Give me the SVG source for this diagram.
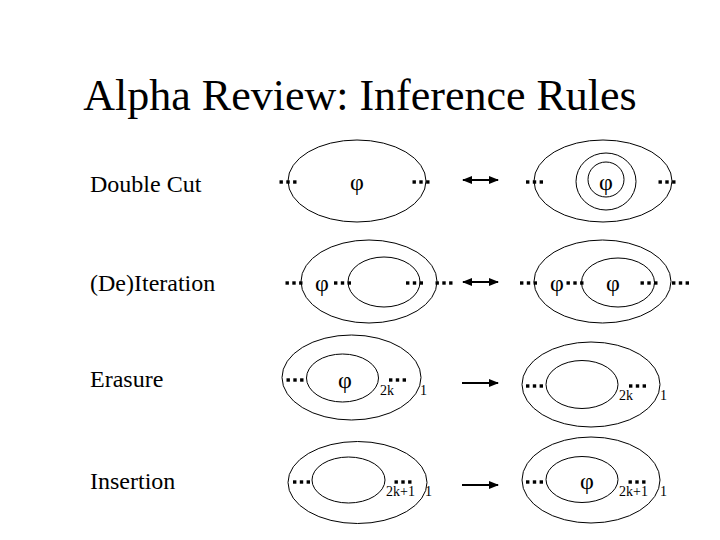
<svg xmlns="http://www.w3.org/2000/svg" width="720" height="540" viewBox="0 0 720 540">
<style>
.c{fill:none;stroke:#000;stroke-width:1}
.a{stroke:#000;stroke-width:2;fill:none}
.d{fill:#000}
</style>
<defs>
<g id="dots">
<rect class="d" x="-8.5" y="-1.7" width="3.4" height="3.4"/>
<rect class="d" x="-1.7" y="-1.7" width="3.4" height="3.4"/>
<rect class="d" x="5.1" y="-1.7" width="3.4" height="3.4"/>
</g>
<marker id="ah" viewBox="0 0 10 10" refX="9" refY="5" markerWidth="5" markerHeight="5" orient="auto-start-reverse" markerUnits="strokeWidth">
<path d="M0,1 L10,5 L0,9 z" fill="#000"/>
</marker>
</defs>
<rect width="720" height="540" fill="#fff"/>
<g font-family="Liberation Serif" fill="#000">
<text x="360" y="110" text-anchor="middle" font-size="44">Alpha Review: Inference Rules</text>
<g id="labels" font-size="24">
<text x="90" y="192">Double Cut</text>
<text x="90" y="291">(De)Iteration</text>
<text x="90" y="387">Erasure</text>
<text x="90" y="489">Insertion</text>
</g>
<g id="row-doublecut-left">
<ellipse class="c" cx="357" cy="181" rx="69" ry="41"/>
<use href="#dots" x="288" y="182"/>
<use href="#dots" x="421" y="182"/>
<text x="357" y="190" font-size="24" text-anchor="middle">φ</text>
</g>
<g id="row-doublecut-right">
<ellipse class="c" cx="603" cy="181" rx="69" ry="41"/>
<ellipse class="c" cx="606" cy="181.5" rx="30" ry="28.5"/>
<ellipse class="c" cx="606" cy="179.5" rx="18" ry="17.5"/>
<use href="#dots" x="534.5" y="182"/>
<use href="#dots" x="667" y="182"/>
<text x="606" y="190" font-size="24" text-anchor="middle">φ</text>
</g>
<g id="row-iteration-left">
<ellipse class="c" cx="369" cy="281.5" rx="68" ry="41.5"/>
<ellipse class="c" cx="384" cy="282" rx="36" ry="25"/>
<use href="#dots" x="294" y="283"/>
<text x="322" y="291" font-size="24" text-anchor="middle">φ</text>
<use href="#dots" x="342.5" y="283"/>
<use href="#dots" x="414.5" y="283"/>
<use href="#dots" x="444" y="283"/>
</g>
<g id="row-iteration-right">
<ellipse class="c" cx="602.5" cy="281.5" rx="68.5" ry="41.5"/>
<ellipse class="c" cx="618" cy="282.5" rx="36.5" ry="24.5"/>
<use href="#dots" x="528.5" y="283"/>
<text x="557" y="291" font-size="24" text-anchor="middle">φ</text>
<use href="#dots" x="575" y="283"/>
<text x="613" y="291" font-size="24" text-anchor="middle">φ</text>
<use href="#dots" x="649" y="283"/>
<use href="#dots" x="680.5" y="283"/>
</g>
<g id="row-erasure-left">
<ellipse class="c" cx="351.5" cy="377.5" rx="69.5" ry="42.5"/>
<ellipse class="c" cx="342.5" cy="378" rx="36" ry="24"/>
<use href="#dots" x="295" y="380"/>
<text x="345" y="388" font-size="24" text-anchor="middle">φ</text>
<use href="#dots" x="397.5" y="380"/>
<text x="380" y="395" font-size="14">2k</text>
<text x="420" y="395" font-size="14">1</text>
</g>
<g id="row-erasure-right">
<ellipse class="c" cx="591" cy="384.5" rx="69" ry="42.5"/>
<ellipse class="c" cx="582" cy="384.5" rx="36" ry="24"/>
<use href="#dots" x="534.5" y="386"/>
<use href="#dots" x="637.5" y="386"/>
<text x="619" y="400" font-size="14">2k</text>
<text x="660" y="400" font-size="14">1</text>
</g>
<g id="row-insertion-left">
<ellipse class="c" cx="357.5" cy="482.5" rx="69.5" ry="41"/>
<ellipse class="c" cx="348.5" cy="480" rx="36.5" ry="23"/>
<use href="#dots" x="301.5" y="482"/>
<use href="#dots" x="403" y="482"/>
<text x="386" y="496" font-size="14">2k+1</text>
<text x="425" y="496" font-size="14">1</text>
</g>
<g id="row-insertion-right">
<ellipse class="c" cx="591" cy="480" rx="69" ry="43"/>
<ellipse class="c" cx="582" cy="479.5" rx="36" ry="23"/>
<use href="#dots" x="534.5" y="482"/>
<text x="587" y="489" font-size="24" text-anchor="middle">φ</text>
<use href="#dots" x="637" y="482"/>
<text x="619" y="496" font-size="14">2k+1</text>
<text x="660" y="496" font-size="14">1</text>
</g>
</g>
<g id="connectors">
<line class="a" x1="463" y1="180" x2="498" y2="180" marker-start="url(#ah)" marker-end="url(#ah)"/>
<line class="a" x1="463" y1="282" x2="498" y2="282" marker-start="url(#ah)" marker-end="url(#ah)"/>
<line class="a" x1="462" y1="383" x2="498" y2="383" marker-end="url(#ah)"/>
<line class="a" x1="462" y1="485" x2="498" y2="485" marker-end="url(#ah)"/>
</g>
</svg>
